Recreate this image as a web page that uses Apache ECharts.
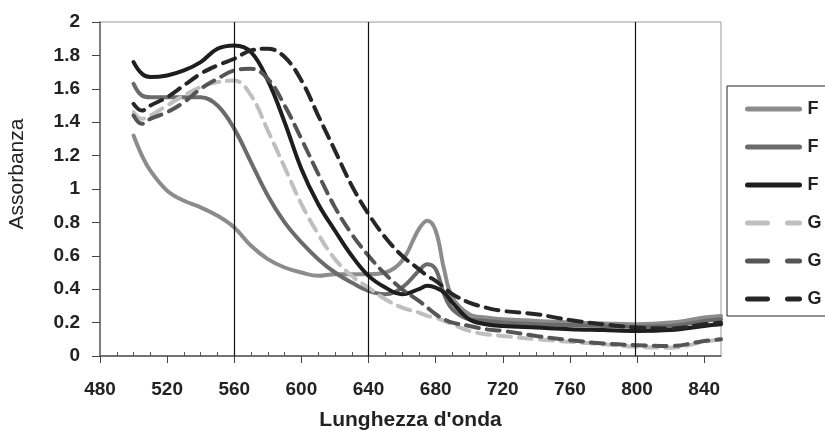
<!DOCTYPE html>
<html>
<head>
<meta charset="utf-8">
<script src="https://cdn.jsdelivr.net/npm/echarts@6/dist/echarts.min.js"></script>
<style>
  html, body { margin: 0; padding: 0; background: #fff; }
  #chart { width: 825px; height: 434px; }
</style>
</head>
<body>
<div id="chart"></div>
<script>
// wavelength (nm) shared by all curves
const wavelength = [500, 505, 510, 520, 530, 540, 550, 560, 570, 580, 590, 600, 610, 620, 630, 640, 650, 660, 670, 675, 680, 685, 690, 700, 710, 720, 740, 760, 780, 800, 820, 840, 850];

const f1 = [1.32, 1.2, 1.11, 0.99, 0.93, 0.89, 0.84, 0.77, 0.66, 0.58, 0.53, 0.5, 0.48, 0.49, 0.49, 0.49, 0.5, 0.57, 0.76, 0.81, 0.75, 0.52, 0.35, 0.25, 0.23, 0.22, 0.21, 0.2, 0.195, 0.19, 0.2, 0.23, 0.24];
const f2 = [1.63, 1.56, 1.55, 1.55, 1.55, 1.55, 1.5, 1.36, 1.16, 0.96, 0.8, 0.68, 0.58, 0.5, 0.44, 0.39, 0.37, 0.41, 0.51, 0.55, 0.52, 0.37, 0.28, 0.22, 0.21, 0.2, 0.19, 0.185, 0.18, 0.175, 0.18, 0.21, 0.22];
const f3 = [1.76, 1.69, 1.67, 1.68, 1.71, 1.76, 1.84, 1.86, 1.82, 1.65, 1.4, 1.12, 0.91, 0.75, 0.6, 0.48, 0.41, 0.37, 0.4, 0.42, 0.41, 0.38, 0.32, 0.22, 0.19, 0.18, 0.17, 0.16, 0.155, 0.15, 0.155, 0.18, 0.19];
const g1 = [1.46, 1.42, 1.44, 1.5, 1.56, 1.61, 1.64, 1.65, 1.56, 1.35, 1.13, 0.91, 0.73, 0.58, 0.48, 0.41, 0.34, 0.29, 0.26, 0.24, 0.23, 0.21, 0.19, 0.15, 0.13, 0.12, 0.1, 0.085, 0.07, 0.055, 0.05, 0.085, 0.1];
const g2 = [1.44, 1.39, 1.42, 1.46, 1.52, 1.6, 1.66, 1.71, 1.72, 1.66, 1.5, 1.3, 1.09, 0.89, 0.73, 0.6, 0.49, 0.4, 0.33, 0.29, 0.25, 0.22, 0.2, 0.18, 0.16, 0.15, 0.12, 0.095, 0.075, 0.065, 0.06, 0.09, 0.1];
const g3 = [1.51, 1.47, 1.5, 1.55, 1.62, 1.69, 1.74, 1.78, 1.83, 1.84, 1.79, 1.65, 1.44, 1.23, 1.02, 0.85, 0.71, 0.6, 0.52, 0.48, 0.45, 0.41, 0.37, 0.32, 0.29, 0.27, 0.25, 0.215, 0.19, 0.17, 0.165, 0.19, 0.2];

// vertical reference lines
const refLines = [560, 640, 799];

const chart = echarts.init(document.getElementById('chart'));

function pairs(ys) {
    return wavelength.map((x, i) => [x, ys[i]]);
}

function makeSeries(name, ys, color, dashed) {
    return {
        name: name,
        type: 'line',
        data: pairs(ys),
        smooth: 0.4,
        symbol: 'none',
        animation: false,
        lineStyle: {
            color: color,
            width: 4,
            type: dashed ? [13, 8] : 'solid',
            cap: 'round'
        },
        itemStyle: { color: color }
    };
}

const series = [
    makeSeries('F1', f1, '#8c8c8c', false),
    makeSeries('F2', f2, '#6b6b6b', false),
    makeSeries('F3', f3, '#1e1e1e', false),
    makeSeries('G1', g1, '#bfbfbf', true),
    makeSeries('G2', g2, '#555555', true),
    makeSeries('G3', g3, '#262626', true)
];

series.push({
    type: 'line',
    data: [],
    silent: true,
    markLine: {
        symbol: 'none',
        silent: true,
        label: { show: false },
        lineStyle: { color: '#111', width: 1.2, type: 'solid' },
        data: refLines.map(v => ({ xAxis: v }))
    }
});

const axisFont = {
    fontFamily: 'Liberation Sans',
    fontSize: 19,
    fontWeight: 'bold',
    color: '#222'
};

const solidKey = { width: 5, type: 'solid', cap: 'round' };
const dashKey = { width: 5, type: [20, 20], cap: 'round' };

const option = {
    backgroundColor: '#fff',
    animation: false,
    grid: {
        show: true,
        left: 100,
        right: 104,
        top: 22,
        bottom: 78,
        outerBoundsMode: 'none',
        borderColor: '#999',
        borderWidth: 1
    },
    legend: {
        data: [
            { name: 'F1', lineStyle: solidKey },
            { name: 'F2', lineStyle: solidKey },
            { name: 'F3', lineStyle: solidKey },
            { name: 'G1', lineStyle: dashKey },
            { name: 'G2', lineStyle: dashKey },
            { name: 'G3', lineStyle: dashKey }
        ],
        orient: 'vertical',
        left: 727,
        top: 86,
        itemWidth: 52,
        itemHeight: 14,
        itemGap: 20,
        padding: [14, 30, 8, 18],
        borderColor: '#222',
        borderWidth: 1,
        itemStyle: { opacity: 0 },
        formatter: name => name.charAt(0),
        textStyle: {
            fontFamily: 'Liberation Sans',
            fontSize: 18,
            fontWeight: 'bold',
            color: '#222',
            padding: [0, 0, 0, 3]
        }
    },
    xAxis: [{
        type: 'value',
        min: 480,
        max: 850,
        interval: 40,
        name: "Lunghezza d'onda",
        nameLocation: 'middle',
        nameGap: 54,
        nameTextStyle: {
            fontFamily: 'Liberation Sans',
            fontSize: 21,
            fontWeight: 'bold',
            color: '#222'
        },
        splitLine: { show: false },
        axisLine: { lineStyle: { color: '#555', width: 1.5 } },
        axisTick: { show: true, length: 7, lineStyle: { color: '#444' } },
        axisLabel: Object.assign({ margin: 24, showMaxLabel: false }, axisFont)
    }, {
        // second copy of the axis only for the small inward ticks
        type: 'value',
        position: 'bottom',
        min: 480,
        max: 850,
        interval: 40,
        splitLine: { show: false },
        axisLine: { show: false },
        axisTick: { show: false, inside: true },
        minorTick: { show: true, splitNumber: 4, length: 4, lineStyle: { color: '#555' } },
        axisLabel: { show: false }
    }],
    yAxis: {
        type: 'value',
        min: 0,
        max: 2,
        interval: 0.2,
        name: 'Assorbanza',
        nameLocation: 'middle',
        nameRotate: 90,
        nameGap: 72,
        nameTextStyle: {
            fontFamily: 'Liberation Sans',
            fontSize: 21,
            color: '#222',
            padding: [0, 0, 0, 30]
        },
        splitLine: { show: false },
        axisLine: { show: true, lineStyle: { color: '#666', width: 1.5 } },
        axisTick: { show: true, length: 8, lineStyle: { color: '#444' } },
        axisLabel: Object.assign({
            margin: 20,
            formatter: v => String(Math.round(v * 10) / 10)
        }, axisFont)
    },
    series: series
};

chart.setOption(option);
</script>
</body>
</html>
